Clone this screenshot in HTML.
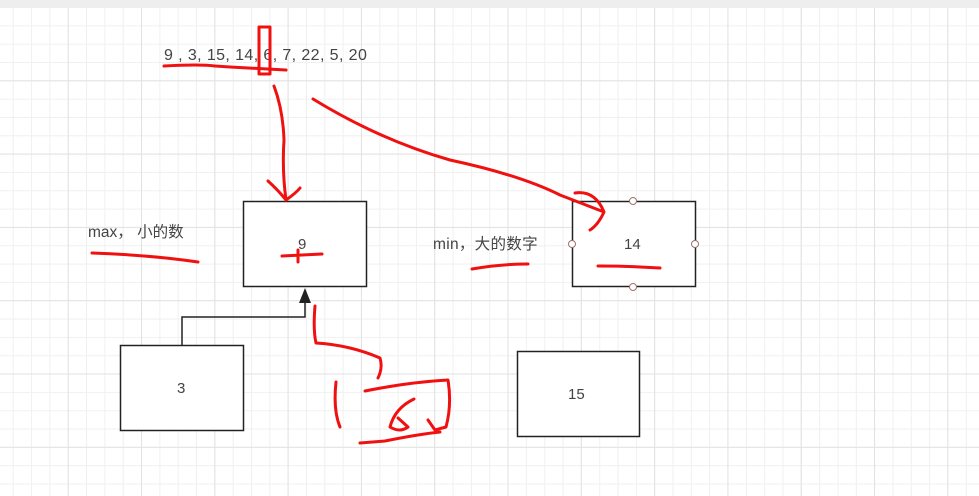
<!DOCTYPE html>
<html><head><meta charset="utf-8"><style>
html,body{margin:0;padding:0;}
body{width:979px;height:496px;overflow:hidden;position:relative;background:#fff;
background-image:
linear-gradient(#e2e2e2 1px,transparent 1px),
linear-gradient(90deg,#e2e2e2 1px,transparent 1px),
linear-gradient(#f0f0f0 1px,transparent 1px),
linear-gradient(90deg,#f0f0f0 1px,transparent 1px);
background-size:73.3px 73.3px,73.3px 73.3px,18.33px 18.33px,18.33px 18.33px;
background-position:0 7px,-5.6px 0,0 7px,-5.6px 0;}
.top{position:absolute;left:0;top:0;width:979px;height:8px;background:#eeeeee;}
svg{position:absolute;left:0;top:0;}
text{font-family:"Liberation Sans","Noto Sans CJK SC",sans-serif;font-size:15px;fill:#444;}
</style></head><body>
<div class="top"></div>
<svg width="979" height="496">
<text x="164" y="60" style="font-size:16px;letter-spacing:0.4px">9 , 3, 15, 14, 6, 7, 22, 5, 20</text>
<text x="88" y="237" style="font-size:15.5px">max， 小的数</text>
<text x="433" y="249" style="font-size:15.5px;letter-spacing:0.3px">min，大的数字</text>
<rect x="243.5" y="201.5" width="123" height="85" fill="#fff" stroke="#222" stroke-width="1.5"/>
<text x="298" y="249">9</text>
<rect x="572.5" y="201.5" width="123" height="85" fill="#fff" stroke="#222" stroke-width="1.5"/>
<text x="624" y="249">14</text>
<g fill="#fff" stroke="#a07070" stroke-width="1">
<circle cx="633" cy="201" r="3.5"/><circle cx="572" cy="244" r="3.5"/><circle cx="695" cy="244" r="3.5"/><circle cx="633" cy="287" r="3.5"/></g>
<rect x="120.5" y="345.5" width="123" height="85" fill="#fff" stroke="#222" stroke-width="1.5"/>
<text x="177" y="393">3</text>
<rect x="517.5" y="351.5" width="122" height="85" fill="#fff" stroke="#222" stroke-width="1.5"/>
<text x="568" y="399">15</text>
<polyline points="182,345 182,317 305,317 305,300" fill="none" stroke="#222" stroke-width="1.5"/>
<polygon points="305,288 299,303 311,303" fill="#222"/>
<g fill="none" stroke="#f01010" stroke-width="3" stroke-linecap="round" stroke-linejoin="round">
<path d="M164,66 Q200,64 215,66 L230,67 L286,70"/>
<rect x="259" y="27" width="11" height="47"/>
<path d="M274,86 Q283,110 284,140 Q282,170 286,200 M268,181 Q278,190 286,200 Q296,193 300,188"/>
<path d="M313,99 Q380,140 450,160 Q520,175 560,195 L604,212 M575,193 Q595,190 604,212 Q598,225 590,230"/>
<path d="M92,253 Q150,255 198,262"/>
<path d="M282,256 L322,254 M298,250 L298,262"/>
<path d="M472,269 Q500,264 528,264"/>
<path d="M598,266 Q630,266 660,268"/>
<path d="M315,306 Q313,330 316,343 Q350,345 380,358 Q383,368 378,378"/>
<path d="M336,382 Q333,410 340,427"/>
<path d="M365,391 Q410,382 448,380 Q452,405 446,427 L435,430 L428,420 M414,399 Q395,408 390,427 Q400,433 408,427 L398,418"/>
<path d="M360,443 L385,441 Q420,434 440,432"/>
</g>
</svg>
</body></html>
